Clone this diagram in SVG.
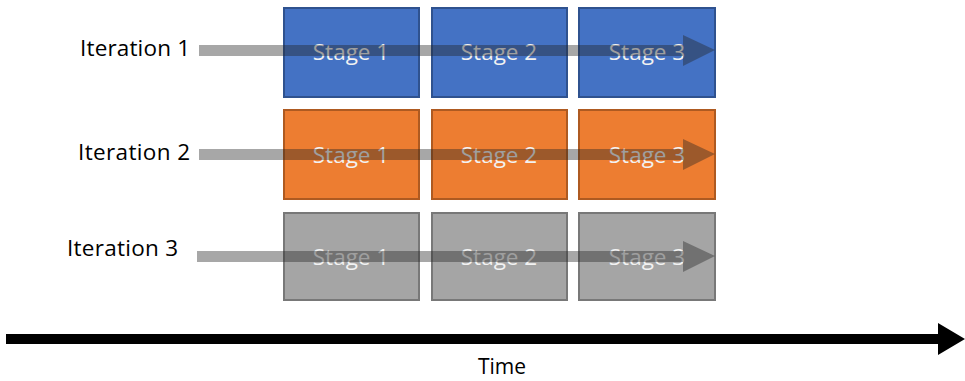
<svg xmlns="http://www.w3.org/2000/svg" width="965" height="381" viewBox="0 0 965 381">
<style>
.lbl{font-family:"Open Sans","Noto Sans",sans-serif;font-size:22.5px;fill:#000}
.st{font-family:"Open Sans","Noto Sans",sans-serif;font-size:22.5px;fill:#f2f2f2;text-anchor:middle}
.b{fill:#4472c4;stroke:#2f528f;stroke-width:2}
.o{fill:#ed7d31;stroke:#ae5a21;stroke-width:2}
.g{fill:#a5a5a5;stroke:#787878;stroke-width:2}
.arr{fill:#222;fill-opacity:0.4}
</style>
<rect width="965" height="381" fill="#fff"/>
<g id="iter1">
<text class="lbl" x="80" y="56" textLength="110">Iteration 1</text>
<g id="i1s1"><rect class="b" x="284" y="8" width="135" height="89"/><text class="st" x="351" y="60">Stage 1</text></g>
<g id="i1s2"><rect class="b" x="432" y="8" width="135" height="89"/><text class="st" x="499" y="60">Stage 2</text></g>
<g id="i1s3"><rect class="b" x="579" y="8" width="136" height="89"/><text class="st" x="647" y="60">Stage 3</text></g>
</g>
<g id="iter2">
<text class="lbl" x="78" y="160" textLength="112">Iteration 2</text>
<g id="i2s1"><rect class="o" x="284" y="110" width="135" height="89"/><text class="st" x="351" y="163">Stage 1</text></g>
<g id="i2s2"><rect class="o" x="432" y="110" width="135" height="89"/><text class="st" x="499" y="163">Stage 2</text></g>
<g id="i2s3"><rect class="o" x="579" y="110" width="136" height="89"/><text class="st" x="647" y="163">Stage 3</text></g>
</g>
<g id="iter3">
<text class="lbl" x="67" y="256" textLength="111">Iteration 3</text>
<g id="i3s1"><rect class="g" x="284" y="213" width="135" height="87"/><text class="st" x="351" y="265">Stage 1</text></g>
<g id="i3s2"><rect class="g" x="432" y="213" width="135" height="87"/><text class="st" x="499" y="265">Stage 2</text></g>
<g id="i3s3"><rect class="g" x="579" y="213" width="136" height="87"/><text class="st" x="647" y="265">Stage 3</text></g>
</g>
<g id="connectors">
<polygon class="arr" points="199,45 683,45 683,35 715,50 683,66 683,56 199,56"/>
<polygon class="arr" points="199,149 683,149 683,139 715,154 683,170 683,160 199,160"/>
<polygon class="arr" points="197,251 683,251 683,241 715,256 683,272 683,262 197,262"/>
<polygon fill="#000" points="6,334 938,334 938,323 965,339 938,355 938,344 6,344"/>
</g>
<text class="lbl" x="502" y="374" text-anchor="middle" style="font-size:21px">Time</text>
</svg>
